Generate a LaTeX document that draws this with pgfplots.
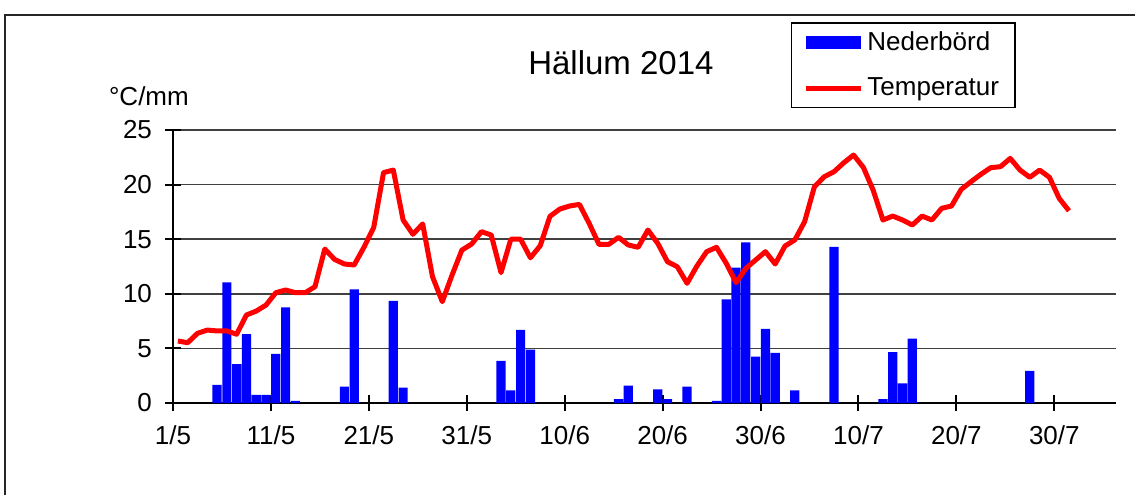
\documentclass[border=0pt]{standalone}
\usepackage{pgfplots}
\usepackage{pgfplotstable}
\pgfplotsset{compat=1.18}
\usepackage{fontspec}
\setmainfont{Liberation Sans}

\pgfplotstableread{
d p
4 1.65
5 11.05
6 3.55
7 6.3
8 0.75
9 0.75
10 4.5
11 8.75
12 0.2
17 1.5
18 10.4
22 9.35
23 1.4
33 3.85
34 1.15
35 6.7
36 4.9
45 0.35
46 1.6
49 1.25
50 0.35
52 1.5
55 0.2
56 9.5
57 12.4
58 14.7
59 4.25
60 6.8
61 4.6
63 1.15
67 14.3
72 0.35
73 4.65
74 1.8
75 5.9
87 2.95
}\prec

\pgfplotstableread{
d t
0 5.68
1 5.52
2 6.38
3 6.68
4 6.6
5 6.6
6 6.3
7 8.06
8 8.42
9 8.97
10 10.1
11 10.35
12 10.1
13 10.1
14 10.65
15 14.1
16 13.15
17 12.73
18 12.64
19 14.26
20 16.08
21 21.1
22 21.33
23 16.76
24 15.45
25 16.4
26 11.57
27 9.28
28 11.72
29 14.0
30 14.56
31 15.69
32 15.38
33 11.94
34 15.0
35 15.0
36 13.3
37 14.4
38 17.1
39 17.76
40 18.04
41 18.19
42 16.45
43 14.53
44 14.53
45 15.17
46 14.47
47 14.26
48 15.84
49 14.62
50 12.94
51 12.48
52 10.96
53 12.54
54 13.86
55 14.26
56 12.79
57 11.02
58 12.33
59 13.1
60 13.86
61 12.73
62 14.38
63 14.93
64 16.6
65 19.8
66 20.72
67 21.18
68 22.0
69 22.71
70 21.58
71 19.5
72 16.76
73 17.12
74 16.76
75 16.3
76 17.12
77 16.76
78 17.83
79 18.04
80 19.57
81 20.27
82 20.94
83 21.55
84 21.64
85 22.4
86 21.33
87 20.67
88 21.33
89 20.67
90 18.74
91 17.6
}\temp

\begin{document}
\begin{tikzpicture}
\useasboundingbox (-86.5pt,-46pt) rectangle (481pt,201.5pt);
\draw[line width=0.75pt, black!85] (-84pt,-46pt) -- (-84pt,194pt) -- (481pt,194pt);
\begin{axis}[
  at={(0pt,0pt)}, anchor=south west,
  scale only axis, width=471.5pt, height=136.5pt,
  xmin=0, xmax=96.3, ymin=0, ymax=25,
  xtick={0,10,20,30,40,50,60,70,80,90},
  xticklabels={1/5,11/5,21/5,31/5,10/6,20/6,30/6,10/7,20/7,30/7},
  ytick={0,5,10,15,20,25},
  /pgf/number format/assume math mode=true,
  ymajorgrids,
  grid style={black!75, line width=0.8pt},
  axis x line*=bottom, axis y line*=left,
  x axis line style={line width=1.3pt, -},
  y axis line style={line width=1pt, -},
  tick align=center,
  major tick length=8pt,
  tick style={black, line width=1pt},
  ticklabel style={font=\fontsize{13}{15}\selectfont},
  xticklabel style={yshift=-4pt},
  yticklabel style={xshift=-3pt},
  every axis title shift=0pt,
  title={Hällum 2014},
  title style={at={(0.475,1.245)}, anchor=center, font=\fontsize{16.5}{19}\selectfont},
  ylabel={°C/mm},
  ylabel style={rotate=-90, at={(-0.0255,1.1245)}, anchor=center, font=\fontsize{13}{15}\selectfont},
  legend style={at={(0.655,1.3956)}, anchor=north west, draw=black, line width=0.75pt,
    font=\fontsize{13}{15}\selectfont, inner xsep=6pt, inner ysep=2.5pt, row sep=8pt,
    /tikz/every even column/.append style={column sep=3pt}},
  legend cell align=left,
]
\addplot[ybar, bar width=0.94, fill=blue, draw=none,
  legend image code/.code={\fill[blue] (0pt,-3.25pt) rectangle (27.5pt,3.25pt);}]
  table[x expr=\thisrow{d}+0.5, y=p] {\prec};
\addlegendentry{Nederbörd\hspace{8pt}}
\addplot[red, line width=2.5pt, line join=round, mark=none,
  legend image code/.code={\draw[red, line width=2.5pt] (0pt,0pt) -- (27.5pt,0pt);}]
  table[x expr=\thisrow{d}+0.5, y=t] {\temp};
\addlegendentry{Temperatur}
\end{axis}
\end{tikzpicture}
\end{document}
